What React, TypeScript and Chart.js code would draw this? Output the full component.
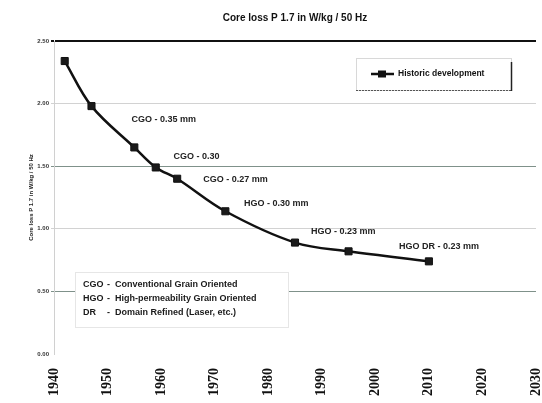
import React, { useEffect, useRef } from 'react';
import { Chart, registerables } from 'chart.js';

Chart.register(...registerables);

const years = [1942, 1947, 1955, 1959, 1963, 1972, 1985, 1995, 2010];
const coreLoss = [2.34, 1.98, 1.65, 1.49, 1.4, 1.14, 0.89, 0.82, 0.74];
const seriesLabel = 'Historic development';
const chartTitle = 'Core loss P 1.7 in W/kg / 50 Hz';
const yAxisTitle = 'Core loss P 1.7 in W/kg / 50 Hz';
const xMin = 1940;
const xMax = 2030;
const xStep = 10;
const yMin = 0;
const yMax = 2.5;
const yStep = 0.5;
const gradeLabels = ['CGO - 0.35 mm', 'CGO - 0.30', 'CGO - 0.27 mm', 'HGO - 0.30 mm', 'HGO - 0.23 mm', 'HGO DR - 0.23 mm'];
const gradeLabelYears = [1960.5, 1966.6, 1973.9, 1981.5, 1994, 2011.9];
const gradeLabelValues = [1.87, 1.576, 1.39, 1.198, 0.977, 0.857];
const glossaryAbbr = ['CGO', 'HGO', 'DR'];
const glossaryText = ['Conventional Grain Oriented', 'High-permeability Grain Oriented', 'Domain Refined (Laser, etc.)'];

const SANS = 'Arial, "Liberation Sans", sans-serif';

const overlayPlugin = {
  id: 'overlay',
  afterDatasetsDraw(chart: any) {
    const { ctx, chartArea } = chart;
    const x = chart.scales.x;
    const y = chart.scales.y;
    ctx.save();
    // grade annotations
    ctx.font = `bold 9px ${SANS}`;
    ctx.fillStyle = '#222';
    ctx.textAlign = 'center';
    ctx.textBaseline = 'middle';
    gradeLabels.forEach((t, i) => {
      ctx.fillText(t, x.getPixelForValue(gradeLabelYears[i]), y.getPixelForValue(gradeLabelValues[i]));
    });

    // legend box
    const lx = chartArea.right - 180;
    const ly = chartArea.top + 17;
    const lw = 155;
    const lh = 32;
    ctx.fillStyle = '#fff';
    ctx.fillRect(lx, ly, lw, lh);
    ctx.strokeStyle = '#d8d8d8';
    ctx.lineWidth = 1;
    ctx.strokeRect(lx + 0.5, ly + 0.5, lw, lh);
    ctx.strokeStyle = '#555';
    ctx.setLineDash([2, 1]);
    ctx.beginPath();
    ctx.moveTo(lx, ly + lh + 0.5);
    ctx.lineTo(lx + lw, ly + lh + 0.5);
    ctx.stroke();
    ctx.setLineDash([]);
    ctx.strokeStyle = '#222';
    ctx.lineWidth = 1.5;
    ctx.beginPath();
    ctx.moveTo(lx + lw + 0.5, ly + 4);
    ctx.lineTo(lx + lw + 0.5, ly + lh + 1);
    ctx.stroke();
    const my = ly + 16;
    ctx.strokeStyle = '#111';
    ctx.lineWidth = 2.5;
    ctx.beginPath();
    ctx.moveTo(lx + 15, my);
    ctx.lineTo(lx + 38, my);
    ctx.stroke();
    ctx.fillStyle = '#111';
    ctx.fillRect(lx + 22, my - 3.5, 8, 7);
    ctx.font = `bold 8.5px ${SANS}`;
    ctx.textAlign = 'left';
    ctx.fillText(seriesLabel, lx + 42, my);

    // glossary box
    const gx = chartArea.left + 21;
    const gy = chartArea.bottom - 82;
    const gw = 213;
    const gh = 55;
    ctx.fillStyle = '#fff';
    ctx.fillRect(gx, gy, gw, gh);
    ctx.strokeStyle = '#e6e6e6';
    ctx.lineWidth = 1;
    ctx.strokeRect(gx + 0.5, gy + 0.5, gw, gh);
    ctx.fillStyle = '#1a1a1a';
    ctx.font = `bold 9px ${SANS}`;
    glossaryAbbr.forEach((a, i) => {
      const ty = gy + 13 + i * 14;
      ctx.textAlign = 'left';
      ctx.fillText(a, gx + 8, ty);
      ctx.fillText('-', gx + 32, ty);
      ctx.fillText(glossaryText[i], gx + 40, ty);
    });
    ctx.restore();
  },
};

export default function App() {
  const ref = useRef<HTMLCanvasElement | null>(null);
  useEffect(() => {
    if (!ref.current) return;
    const chart = new Chart(ref.current, {
      type: 'line',
      data: {
        datasets: [
          {
            label: seriesLabel,
            data: years.map((yr, i) => ({ x: yr, y: coreLoss[i] })),
            borderColor: '#111',
            backgroundColor: '#111',
            borderWidth: 2.5,
            tension: 0.35,
            pointStyle: 'rect',
            pointRadius: 5,
            pointBorderWidth: 1,
            pointBackgroundColor: '#1a1a1a',
            pointBorderColor: '#111',
          },
        ],
      },
      options: {
        animation: false,
        responsive: true,
        maintainAspectRatio: false,
        layout: { padding: { left: 0, right: 5, top: 0, bottom: 0 } },
        plugins: {
          legend: { display: false },
          tooltip: { enabled: false },
          title: {
            display: true,
            text: chartTitle,
            fullSize: false,
            color: '#111',
            font: { family: SANS, size: 10, weight: 'bold', lineHeight: 1.2 },
            padding: { top: 12, bottom: 17 },
          },
        },
        scales: {
          x: {
            type: 'linear',
            min: xMin,
            max: xMax,
            grid: { display: false, drawTicks: false },
            border: { display: false },
            ticks: {
              stepSize: xStep,
              autoSkip: false,
              minRotation: 90,
              maxRotation: 90,
              padding: 14,
              color: '#111',
              font: { family: '"Liberation Serif", "Times New Roman", serif', size: 14, weight: 'bold' },
              callback: (v: any) => String(v),
            },
            afterFit: (s: any) => {
              s.height = 49;
              s.paddingLeft = 0;
              s.paddingRight = 0;
            },
          },
          y: {
            min: yMin,
            max: yMax,
            grid: {
              tickLength: 3,
              color: (c: any) => {
                const v = c.tick ? c.tick.value : 0;
                if (v === 2.5) return '#111';
                if (v === 0) return 'rgba(0,0,0,0)';
                if (v === 1.5 || v === 0.5) return '#7f918a';
                return '#d2d2d2';
              },
              lineWidth: (c: any) => (c.tick && c.tick.value === 2.5 ? 2 : 1),
            },
            border: { display: true, color: '#d0d0d0' },
            ticks: {
              stepSize: yStep,
              padding: 2,
              color: '#333',
              font: { family: SANS, size: 6, weight: 'bold' },
              callback: (v: any) => Number(v).toFixed(2),
            },
            title: {
              display: true,
              text: yAxisTitle,
              color: '#222',
              font: { family: SANS, size: 6, weight: 'bold', lineHeight: 1.2 },
              padding: { top: 28, bottom: 0 },
            },
            afterFit: (s: any) => {
              s.width = 54;
              s.paddingTop = 0;
              s.paddingBottom = 0;
            },
          },
        },
      },
      plugins: [overlayPlugin],
    });
    return () => chart.destroy();
  }, []);
  return (
    <div style={{ position: 'absolute', left: 0, top: 0, width: 542, height: 403, background: '#fff' }}>
      <canvas ref={ref} />
    </div>
  );
}
